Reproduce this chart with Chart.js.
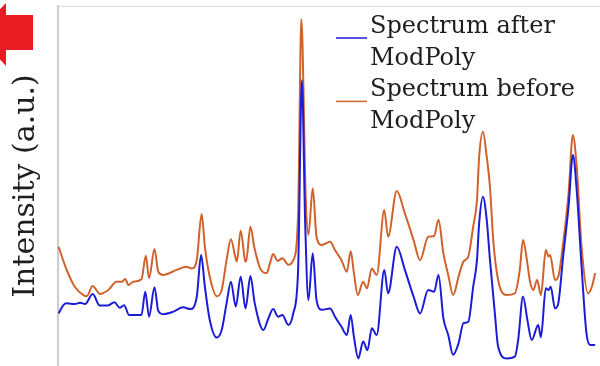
<!DOCTYPE html>
<html>
<head>
<meta charset="utf-8">
<script src="https://cdn.jsdelivr.net/npm/chart.js@4.4.1/dist/chart.umd.min.js"></script>
<style>
  html, body { margin: 0; padding: 0; background: #ffffff; }
  #wrap { width: 600px; height: 366px; }
</style>
</head>
<body>
<div id="wrap"><canvas id="chart" width="600" height="366"></canvas></div>
<script>
// Raman shift positions (relative units across the recorded range)
const shiftAfter = [
  0.1, 1.0, 1.6, 3.1, 4.1, 5.0, 6.4, 7.7, 9.2, 10.4, 11.4, 12.2, 13.1, 15.4, 16.1, 16.8,
  17.8, 18.5, 19.4, 21.3, 23.1, 24.4, 25.6, 26.4, 27.1, 28.0, 29.3, 30.2, 31.1, 31.9, 32.8,
  33.7, 34.6, 35.5, 36.3, 37.9, 38.8, 39.7, 40.6, 41.4, 42.5, 43.4, 44.3, 45.0, 45.6, 46.2,
  47.0, 47.7, 48.7, 50.2, 51.1, 52.3, 53.3, 54.0, 54.6, 55.4, 56.3, 57.1, 57.9, 58.8, 60.2,
  60.9, 62.5, 64.0, 65.6, 66.8, 68.3, 69.4, 70.2, 71.1, 72.0, 72.9, 73.9, 74.8, 75.7, 76.6,
  77.3, 77.7, 78.4, 79.1, 79.7, 80.6, 81.2, 82.8, 84.3, 84.9, 85.8, 86.6, 87.4, 88.6, 89.1,
  90.0, 90.5, 90.9, 91.7, 92.3, 93.2, 94.2, 95.0, 95.7, 96.6, 97.5, 98.2, 99.1
];
// Intensity after ModPoly baseline removal (a.u.)
const intensityAfter = [
  14.6, 16.9, 17.4, 17.2, 17.6, 17.2, 20.0, 16.8, 16.8, 17.7, 16.2, 16.9, 14.2, 14.2, 20.6, 13.7,
  21.9, 15.3, 14.4, 15.1, 16.3, 15.8, 19.2, 30.8, 22.0, 12.8, 7.9, 10.0, 17.4, 23.4, 16.5,
  24.8, 16.0, 25.0, 17.4, 10.0, 13.2, 15.8, 13.7, 14.2, 11.4, 14.6, 26.7, 79.4, 40.0, 18.3,
  31.3, 18.3, 15.6, 16.0, 13.7, 10.9, 8.6, 14.2, 8.1, 2.1, 6.8, 4.4, 10.5, 8.6, 26.7,
  20.2, 33.1, 26.7, 19.3, 14.6, 21.1, 20.6, 25.3, 13.3, 8.6, 3.1, 6.3, 11.9, 12.3, 22.0,
  29.4, 39.6, 47.0, 40.6, 29.4, 14.6, 5.4, 2.1, 2.6, 7.2, 19.3, 12.8, 7.2, 11.4, 8.0,
  21.6, 21.1, 22.0, 16.0, 17.4, 30.4, 44.3, 58.6, 48.9, 27.6, 9.1, 5.8, 5.8
];

const shiftBefore = [
  0.1, 1.6, 3.1, 4.7, 5.3, 6.4, 7.1, 7.7, 9.3, 10.8, 11.8, 12.4, 13.0, 13.9, 15.4, 16.2,
  16.8, 17.8, 18.5, 19.4, 21.9, 23.7, 24.7, 25.6, 26.5, 27.1, 28.0, 29.3, 30.2, 31.1, 31.9,
  32.7, 33.0, 33.7, 34.5, 34.7, 35.5, 36.2, 37.3, 38.5, 39.1, 39.7, 40.5, 41.4, 42.5, 43.4,
  44.3, 44.9, 45.7, 46.2, 47.0, 47.7, 48.7, 50.2, 51.1, 52.3, 53.3, 54.0, 54.6, 55.3, 56.3,
  57.0, 57.9, 58.8, 60.2, 60.9, 62.5, 64.0, 65.6, 66.8, 68.3, 69.4, 70.2, 71.1, 72.0, 72.9,
  73.9, 74.8, 75.7, 76.6, 77.3, 77.7, 78.4, 79.1, 79.7, 80.3, 81.2, 82.8, 84.3, 85.2, 85.8,
  86.6, 87.1, 87.7, 88.4, 89.1, 90.0, 90.5, 90.8, 91.7, 92.3, 93.2, 94.2, 95.0, 95.7, 96.6,
  97.8, 98.5, 99.1
];
// Raw intensity before ModPoly baseline removal (a.u.)
const intensityBefore = [
  33.1, 26.7, 22.0, 19.7, 19.4, 22.2, 21.1, 20.0, 21.1, 23.4, 23.4, 24.2, 22.5, 23.4, 24.1, 30.6,
  24.4, 32.5, 26.2, 25.3, 26.7, 27.6, 27.1, 29.4, 42.2, 33.1, 24.8, 19.4, 21.1, 29.4, 35.2,
  30.4, 29.0, 37.6, 29.4, 29.0, 38.7, 33.1, 27.1, 25.8, 28.5, 31.1, 29.2, 29.9, 28.1, 29.4,
  42.4, 96.4, 47.0, 36.4, 49.4, 35.9, 33.6, 34.5, 32.2, 29.4, 26.2, 31.9, 25.8, 19.7, 23.4,
  21.6, 27.1, 25.3, 43.3, 35.9, 48.6, 42.4, 35.0, 29.4, 35.9, 36.1, 40.6, 31.3, 25.3, 19.7,
  24.8, 29.0, 30.4, 38.7, 46.1, 58.1, 65.1, 58.1, 49.8, 35.0, 23.9, 19.7, 20.2, 26.7, 35.0,
  28.5, 23.4, 21.1, 23.9, 19.7, 32.2, 30.4, 30.8, 23.9, 24.8, 34.1, 47.9, 64.2, 55.4, 33.1,
  20.2, 22.0, 25.8
];

const seriesNames = [
  ['Spectrum after', 'ModPoly'],
  ['Spectrum before', 'ModPoly']
];
const axisTitle = 'Intensity (a.u.)';

const BLUE = '#1c1cd6';
const ORANGE = '#d0622c';
const SERIF = "'DejaVu Serif', 'Liberation Serif', serif";

const toPoints = (xs, ys) => xs.map((x, i) => ({ x: x, y: ys[i] }));

// Red arrow marker in the upper-left corner
const arrowPlugin = {
  id: 'arrowMarker',
  afterDraw(chart) {
    const ctx = chart.ctx;
    ctx.save();
    ctx.fillStyle = '#e91c24';
    ctx.beginPath();
    ctx.moveTo(33, 15);
    ctx.lineTo(6, 15);
    ctx.lineTo(6, 3);
    ctx.lineTo(-24, 34);
    ctx.lineTo(6, 66);
    ctx.lineTo(6, 50);
    ctx.lineTo(33, 50);
    ctx.closePath();
    ctx.fill();
    ctx.restore();
  }
};

// Two-line legend entries drawn with the dataset colours
const legendPlugin = {
  id: 'wrappedLegend',
  afterDraw(chart) {
    const ctx = chart.ctx;
    const x0 = 336, lineLen = 31, textX = 370;
    const firstBaseline = 33, lineStep = 31.7;
    ctx.save();
    ctx.font = '24px ' + SERIF;
    ctx.textBaseline = 'alphabetic';
    ctx.textAlign = 'left';
    seriesNames.forEach((lines, i) => {
      const ds = chart.data.datasets[i];
      const base = firstBaseline + i * 2 * lineStep;
      ctx.strokeStyle = ds.borderColor;
      ctx.lineWidth = 1.5;
      ctx.beginPath();
      ctx.moveTo(x0, base + 5);
      ctx.lineTo(x0 + lineLen, base + 5);
      ctx.stroke();
      ctx.fillStyle = '#1e1e1e';
      lines.forEach((t, j) => ctx.fillText(t, textX, base + j * lineStep));
    });
    ctx.restore();
  }
};

new Chart(document.getElementById('chart'), {
  type: 'line',
  data: {
    datasets: [
      {
        label: seriesNames[0].join(' '),
        data: toPoints(shiftAfter, intensityAfter),
        borderColor: BLUE,
        borderWidth: 2,
        pointRadius: 0,
        cubicInterpolationMode: 'monotone',
        fill: false
      },
      {
        label: seriesNames[1].join(' '),
        data: toPoints(shiftBefore, intensityBefore),
        borderColor: ORANGE,
        borderWidth: 2,
        pointRadius: 0,
        cubicInterpolationMode: 'monotone',
        fill: false
      }
    ]
  },
  options: {
    responsive: false,
    animation: false,
    layout: { padding: { left: 4, top: 6, right: 0, bottom: 0 } },
    plugins: {
      legend: { display: false },
      tooltip: { enabled: false }
    },
    scales: {
      x: {
        type: 'linear',
        position: 'top',
        min: 0,
        max: 100,
        ticks: { display: false },
        grid: { display: false, drawTicks: false },
        border: { display: true, color: '#dddddd', width: 1 }
      },
      y: {
        type: 'linear',
        min: 0,
        max: 100,
        ticks: { display: false },
        grid: { display: false, drawTicks: false },
        border: { display: true, color: '#cccccc', width: 2 },
        title: {
          display: true,
          text: axisTitle,
          color: '#1e1e1e',
          font: { family: SERIF, size: 30 },
          padding: { top: 4, bottom: 14 }
        }
      }
    }
  },
  plugins: [arrowPlugin, legendPlugin]
});
</script>
</body>
</html>
